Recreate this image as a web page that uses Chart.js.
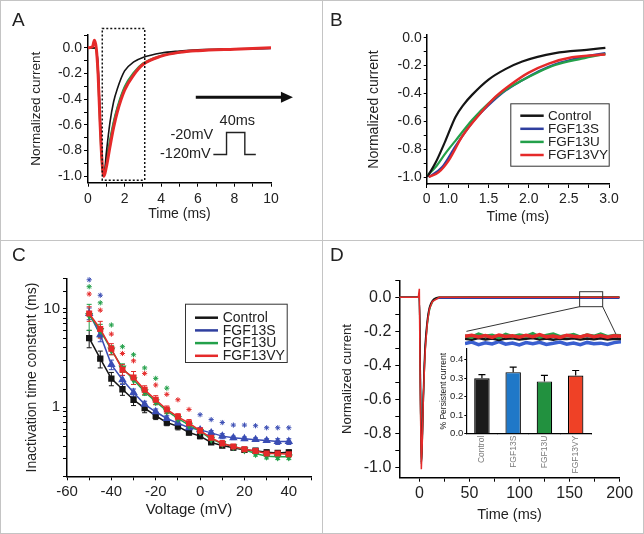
<!DOCTYPE html>
<html>
<head>
<meta charset="utf-8">
<script src="https://cdn.jsdelivr.net/npm/chart.js@4.4.1/dist/chart.umd.min.js"></script>
<style>
  html, body { margin: 0; padding: 0; background: #fff; }
  #fig { position: relative; width: 644px; height: 534px; overflow: hidden; font-family: "Liberation Sans", Arial, sans-serif; }
  .cv { position: absolute; }
  .ln { position: absolute; background: #c4c4c4; }
  .lab { position: absolute; font-size: 19px; line-height: 1; color: #222; }
</style>
</head>
<body>
<div id="fig">
  <canvas id="cA" class="cv" style="left:0;top:0" width="322" height="240"></canvas>
  <canvas id="cB" class="cv" style="left:322px;top:0" width="322" height="240"></canvas>
  <canvas id="cC" class="cv" style="left:0;top:240px" width="322" height="294"></canvas>
  <canvas id="cD" class="cv" style="left:322px;top:240px" width="322" height="294"></canvas>
  <canvas id="cP" class="cv" style="left:465px;top:330px" width="156" height="18"></canvas>
  <canvas id="cBar" class="cv" style="left:430px;top:340px" width="170" height="145"></canvas>

  <div class="ln" style="left:0;top:0;width:644px;height:1px"></div>
  <div class="ln" style="left:0;top:533px;width:644px;height:1px"></div>
  <div class="ln" style="left:0;top:0;width:1px;height:534px"></div>
  <div class="ln" style="left:643px;top:0;width:1px;height:534px"></div>
  <div class="ln" style="left:322px;top:0;width:1px;height:534px"></div>
  <div class="ln" style="left:0;top:240px;width:644px;height:1px"></div>

  <div class="lab" style="left:12px;top:10px">A</div>
  <div class="lab" style="left:330px;top:10px">B</div>
  <div class="lab" style="left:12px;top:245px">C</div>
  <div class="lab" style="left:330px;top:245px">D</div>
</div>

<script>
// ---- data ----
const groups = ['Control', 'FGF13S', 'FGF13U', 'FGF13VY'];

// A: full traces (ms, normalized current)
const timeA = [0, 0.25, 0.35, 0.45, 0.55, 0.65, 0.75, 0.87, 1.0, 1.2, 1.4, 1.6, 2.0, 2.5, 3.0, 4, 5, 6, 8, 10];
const ctrlA = [0, 0, 0, -0.01, -0.15, -0.5, -0.85, -1.0, -0.82, -0.58, -0.42, -0.32, -0.18, -0.11, -0.075, -0.04, -0.025, -0.015, -0.008, -0.003];
const s13A  = [0, 0, 0, -0.01, -0.15, -0.5, -0.85, -1.0, -0.9, -0.73, -0.58, -0.47, -0.31, -0.2, -0.13, -0.065, -0.035, -0.022, -0.01, -0.004];
const u13A  = [0, 0, 0, -0.02, -0.25, -0.6, -0.9, -1.0, -0.87, -0.71, -0.57, -0.46, -0.3, -0.19, -0.12, -0.06, -0.035, -0.022, -0.01, -0.003];
const vyA   = [0, 0.01, 0.06, 0.0, -0.2, -0.55, -0.85, -1.0, -0.93, -0.77, -0.62, -0.5, -0.33, -0.21, -0.13, -0.065, -0.035, -0.022, -0.01, 0];

// A annotations (in data units)
const zoomBoxA = { t: [0.78, 3.1], v: [-1.03, 0.15] };
const arrowA = { t: [5.89, 11.2], v: -0.384 };
const stepT = [6.85, 7.57, 7.57, 8.57, 8.57, 9.17];
const stepV = [-0.831, -0.831, -0.659, -0.659, -0.831, -0.831];
const stepText = ['-120mV', '-20mV', '40ms'];
const stepTextT = [6.71, 6.84, 8.16];
const stepTextV = [-0.83, -0.68, -0.567];

// B: decay phase
const ctrlBt = [0.735, 0.838, 0.963, 1.087, 1.19, 1.295, 1.5, 1.71, 1.92, 2.33, 2.75, 2.955];
const ctrlBv = [-1.0, -0.9, -0.74, -0.57, -0.48, -0.41, -0.3, -0.225, -0.17, -0.11, -0.085, -0.072];
const s13Bt = [0.756, 0.92, 1.087, 1.295, 1.5, 1.71, 1.92, 2.125, 2.33, 2.66, 2.955];
const s13Bv = [-1.0, -0.93, -0.78, -0.61, -0.485, -0.38, -0.305, -0.24, -0.19, -0.14, -0.11];
const u13Bt = [0.735, 0.838, 0.963, 1.087, 1.295, 1.5, 1.71, 1.92, 2.125, 2.33, 2.66, 2.955];
const u13Bv = [-0.99, -0.93, -0.83, -0.74, -0.59, -0.47, -0.375, -0.305, -0.245, -0.195, -0.15, -0.115];
const vyBt = [0.756, 0.88, 1.005, 1.17, 1.38, 1.585, 1.79, 2.0, 2.25, 2.54, 2.955];
const vyBv = [-1.0, -0.965, -0.88, -0.71, -0.555, -0.425, -0.33, -0.25, -0.185, -0.14, -0.12];
const bTicks = [0.73, 1.0, 1.25, 1.5, 1.75, 2.0, 2.25, 2.5, 2.75, 3.0];
const bTickLabels = ['0', '1.0', '', '1.5', '', '2.0', '', '2.5', '', '3.0'];

// C: inactivation time constant vs voltage
const volts  = [-50, -45, -40, -35, -30, -25, -20, -15, -10, -5, 0, 5, 10, 15, 20, 25, 30, 35, 40];
const ctrlTau = [5.0, 3.1, 1.95, 1.52, 1.19, 0.98, 0.82, 0.70, 0.64, 0.555, 0.51, 0.44, 0.41, 0.39, 0.37, 0.363, 0.35, 0.345, 0.35];
const s13Tau  = [8.9, 5.4, 2.7, 1.9, 1.41, 1.07, 0.9, 0.77, 0.69, 0.62, 0.59, 0.55, 0.51, 0.49, 0.48, 0.47, 0.46, 0.45, 0.45];
const u13Tau  = [8.5, 6.0, 3.8, 2.5, 1.9, 1.44, 1.14, 0.92, 0.77, 0.66, 0.57, 0.475, 0.43, 0.40, 0.37, 0.34, 0.32, 0.315, 0.315];
const vyTau   = [8.9, 6.2, 3.9, 2.4, 2.0, 1.5, 1.19, 0.95, 0.8, 0.69, 0.58, 0.49, 0.43, 0.40, 0.375, 0.36, 0.34, 0.34, 0.335];
const ctrlErr = [1.0, 0.6, 0.3, 0.2, 0.15, 0.1, 0.07, 0.05, 0.05, 0.03, 0.03, 0.02, 0.02, 0.02, 0.02, 0.02, 0.02, 0.02, 0.02];
const s13Err  = [1.2, 0.8, 0.3, 0.2, 0.12, 0.08, 0.06, 0.05, 0.04, 0.03, 0.03, 0.03, 0.03, 0.02, 0.02, 0.02, 0.02, 0.03, 0.03];
const u13Err  = [2.5, 0.9, 0.4, 0.25, 0.2, 0.12, 0.08, 0.06, 0.05, 0.04, 0.03, 0.03, 0.02, 0.02, 0.02, 0.02, 0.02, 0.02, 0.02];
const vyErr   = [1.5, 1.2, 0.5, 0.3, 0.3, 0.15, 0.12, 0.08, 0.06, 0.06, 0.04, 0.03, 0.03, 0.02, 0.02, 0.02, 0.02, 0.02, 0.02];
const s13StarV = [-50, -45, 0, 5, 10, 15, 20, 25, 30, 35, 40];
const s13StarY = [19.5, 13.6, 0.84, 0.75, 0.70, 0.66, 0.66, 0.65, 0.62, 0.62, 0.62];
const u13StarV = [-50, -45, -40, -35, -30, -25, -20, -15];
const u13StarY = [16.6, 11.4, 6.8, 4.1, 3.4, 2.5, 1.96, 1.56];
const vyStarV = [-50, -45, -40, -35, -30, -25, -20, -15, -10, -5];
const vyStarY = [14, 9.6, 5.5, 3.5, 2.95, 2.2, 1.68, 1.35, 1.19, 0.95];

// D: long traces
const timeD = [-20, -1, 0, 1, 2, 3, 4, 5, 6, 8, 10, 13, 20, 50, 100, 150, 200];
const ctrlD = [0, 0, 0, -0.45, -0.97, -0.8, -0.56, -0.38, -0.26, -0.13, -0.06, -0.02, 0, 0, 0, 0, 0];
const s13D  = [0, 0, 0, -0.45, -0.98, -0.82, -0.6, -0.42, -0.29, -0.15, -0.07, -0.025, -0.005, -0.006, -0.006, -0.006, -0.006];
const u13D  = [0, 0, 0, -0.5, -0.98, -0.83, -0.6, -0.43, -0.3, -0.16, -0.08, -0.03, 0, 0.002, 0.002, 0.002, 0.002];
const vyD   = [0, 0, 0.05, -0.6, -1.01, -0.84, -0.6, -0.43, -0.3, -0.15, -0.07, -0.025, 0, 0, 0, 0, 0];
const zoomBoxD = { t: [160, 183], v: [-0.055, 0.033] };
const zoomLinkD = { t: [47, 199], v: [-0.2, -0.25] };

// D inset: zoomed persistent current
const persistT = [0, 1, 2, 3, 4, 5, 6, 7, 8, 9, 10, 11, 12, 13, 14, 15, 16, 17, 18, 19, 20, 21, 22, 23];
const vyP   = [0.30, 0.42, 0.22, 0.38, 0.18, 0.45, 0.28, 0.36, 0.20, 0.40, 0.26, 0.48, 0.24, 0.34, 0.18, 0.42, 0.30, 0.22, 0.44, 0.26, 0.38, 0.20, 0.36, 0.30];
const u13P  = [0.35, 0.20, 0.55, 0.30, 0.40, 0.15, 0.50, 0.25, 0.45, 0.30, 0.60, 0.20, 0.40, 0.55, 0.25, 0.35, 0.50, 0.20, 0.45, 0.30, 0.55, 0.25, 0.40, 0.35];
const ctrlP = [0.02, -0.08, 0.10, -0.05, 0.06, -0.10, 0.04, 0.08, -0.06, 0.02, 0.10, -0.04, 0.06, -0.08, 0.04, 0.00, 0.08, -0.06, 0.05, -0.02, 0.07, -0.05, 0.03, 0.00];
const s13P  = [-0.50, -0.35, -0.62, -0.42, -0.55, -0.30, -0.58, -0.45, -0.65, -0.40, -0.52, -0.36, -0.60, -0.48, -0.33, -0.57, -0.44, -0.62, -0.38, -0.52, -0.46, -0.60, -0.40, -0.30];

// D inset bars: % persistent current
const persist = [0.30, 0.333, 0.283, 0.315];
const persistErr = [0.02, 0.027, 0.033, 0.027];

// ---- styling ----
const FONT = '"Liberation Sans", Arial, sans-serif';
const COL = ['#151515', '#2f3f9f', '#23a04a', '#e52a2a'];
const BAR_COL = ['#1b1b1b', '#1f78c8', '#22913f', '#ef4126'];

Chart.defaults.animation = false;
Chart.defaults.font.family = FONT;
Chart.defaults.plugins.legend.display = false;
Chart.defaults.plugins.tooltip.enabled = false;

// work out padding so the plot area and axis titles land where they should
function fixBox(W, H, area, yTitleX, yTitleSize, xTitleY, xTitleSize) {
  const padL = yTitleX - 0.6 * yTitleSize;
  const padB = xTitleY == null ? 0 : H - xTitleY - 0.6 * xTitleSize;
  return {
    padding: { left: padL, top: area.top, right: W - area.right, bottom: padB },
    yW: area.left - padL,
    xH: H - area.bottom - padB
  };
}
const fitY = w => s => { s.width = w; s.paddingTop = 0; s.paddingBottom = 0; };
const fitX = h => s => { s.height = h; s.paddingLeft = 0; s.paddingRight = 0; };

function mkAxis(o) {
  const ticks = {
    stepSize: o.step, includeBounds: false, autoSkip: false,
    maxRotation: o.rot || 0, minRotation: o.rot || 0, padding: o.pad == null ? 3 : o.pad,
    color: o.tc || '#222', font: { family: FONT, size: o.fs }
  };
  if (o.cb) ticks.callback = o.cb;
  const ax = {
    type: o.type || 'linear', min: o.min, max: o.max, offset: o.offset || false,
    border: { display: true, color: '#000', width: o.bw || 1.5 },
    grid: { display: true, drawOnChartArea: false, drawTicks: true, tickLength: o.tl == null ? 4 : o.tl, tickColor: '#000', tickWidth: 1 },
    ticks,
    title: o.title ? { display: true, text: o.title, color: '#222', padding: 0, font: { family: FONT, size: o.ts } } : { display: false },
    afterFit: o.fit
  };
  if (o.abt) ax.afterBuildTicks = o.abt;
  return ax;
}

const everyOther = v => { const k = Math.round(v * 10); return k % 2 === 0 ? (k / 10).toFixed(1) : ''; };

function series(label, xs, ys, color, width, order, extra) {
  return Object.assign({
    label, data: xs.map((x, i) => ({ x, y: ys[i] })),
    borderColor: color, backgroundColor: color, borderWidth: width,
    pointRadius: 0, cubicInterpolationMode: 'monotone', order
  }, extra || {});
}

function boxLegend(b) {
  return {
    id: 'boxLegend',
    afterDraw(chart) {
      const { ctx, chartArea: a } = chart;
      const x0 = a.left + b.dx, y0 = a.top + b.dy;
      ctx.save();
      ctx.fillStyle = '#fff';
      ctx.fillRect(x0, y0, b.w, b.h);
      ctx.strokeStyle = '#333'; ctx.lineWidth = 1;
      ctx.strokeRect(x0 + 0.5, y0 + 0.5, b.w, b.h);
      ctx.font = b.fs + 'px ' + FONT; ctx.textBaseline = 'middle'; ctx.textAlign = 'left';
      groups.forEach((g, i) => {
        const yy = y0 + b.first + i * b.rowH;
        ctx.strokeStyle = COL[i]; ctx.lineWidth = 2.5;
        ctx.beginPath(); ctx.moveTo(x0 + b.lx, yy); ctx.lineTo(x0 + b.lx + b.len, yy); ctx.stroke();
        ctx.fillStyle = '#222';
        ctx.fillText(g, x0 + b.tx, yy + 0.5);
      });
      ctx.restore();
    }
  };
}

// ---- A ----
const annoA = {
  id: 'annoA',
  afterDatasetsDraw(chart) {
    const { ctx, scales: { x, y } } = chart;
    ctx.save();
    ctx.strokeStyle = '#111'; ctx.lineWidth = 1.5; ctx.setLineDash([2, 2]);
    const bx1 = x.getPixelForValue(zoomBoxA.t[0]), bx2 = x.getPixelForValue(zoomBoxA.t[1]);
    const by1 = y.getPixelForValue(zoomBoxA.v[1]), by2 = y.getPixelForValue(zoomBoxA.v[0]);
    ctx.strokeRect(bx1, by1, bx2 - bx1, by2 - by1);
    ctx.setLineDash([]);
    // arrow
    const ax1 = x.getPixelForValue(arrowA.t[0]), ax2 = x.getPixelForValue(arrowA.t[1]), ay = y.getPixelForValue(arrowA.v);
    ctx.lineWidth = 3;
    ctx.beginPath(); ctx.moveTo(ax1, ay); ctx.lineTo(ax2 - 9, ay); ctx.stroke();
    ctx.fillStyle = '#111';
    ctx.beginPath(); ctx.moveTo(ax2, ay); ctx.lineTo(ax2 - 12, ay - 5.5); ctx.lineTo(ax2 - 12, ay + 5.5); ctx.closePath(); ctx.fill();
    // voltage protocol
    ctx.lineWidth = 1.4; ctx.strokeStyle = '#222';
    ctx.beginPath();
    stepT.forEach((t, i) => {
      const px = x.getPixelForValue(t), py = y.getPixelForValue(stepV[i]);
      if (i) ctx.lineTo(px, py); else ctx.moveTo(px, py);
    });
    ctx.stroke();
    ctx.font = '14.5px ' + FONT; ctx.fillStyle = '#222'; ctx.textBaseline = 'middle';
    stepText.forEach((s, i) => {
      ctx.textAlign = i === 2 ? 'center' : 'right';
      ctx.fillText(s, x.getPixelForValue(stepTextT[i]), y.getPixelForValue(stepTextV[i]));
    });
    ctx.restore();
  }
};

const bA = fixBox(322, 240, { left: 88, top: 35, right: 271, bottom: 182.7 }, 36.7, 13.5, 214, 14);
new Chart(document.getElementById('cA'), {
  type: 'line',
  data: { datasets: [
    series(groups[0], timeA, ctrlA, COL[0], 1.6, 1),
    series(groups[1], timeA, s13A, COL[1], 1.6, 3),
    series(groups[2], timeA, u13A, COL[2], 1.6, 2),
    series(groups[3], timeA, vyA, COL[3], 3, 0)
  ] },
  options: {
    responsive: false,
    layout: { padding: bA.padding },
    scales: {
      x: mkAxis({ min: 0, max: 10, step: 1, fs: 14, pad: 4, cb: v => (v % 2 === 0 ? String(v) : ''), title: 'Time (ms)', ts: 14, fit: fitX(bA.xH) }),
      y: mkAxis({ min: -1.05, max: 0.1, step: 0.1, fs: 14, pad: 2, cb: everyOther, title: 'Normalized current', ts: 13.5, fit: fitY(bA.yW) })
    }
  },
  plugins: [annoA]
});

// ---- B ----
const bB = fixBox(322, 240, { left: 104.7, top: 35, right: 287, bottom: 184 }, 52.5, 14, 216.7, 14);
new Chart(document.getElementById('cB'), {
  type: 'line',
  data: { datasets: [
    series(groups[0], ctrlBt, ctrlBv, COL[0], 2.2, 1),
    series(groups[1], s13Bt, s13Bv, COL[1], 2.2, 3),
    series(groups[2], u13Bt, u13Bv, COL[2], 2.2, 2),
    series(groups[3], vyBt, vyBv, COL[3], 2.4, 0)
  ] },
  options: {
    responsive: false,
    layout: { padding: bB.padding },
    scales: {
      x: mkAxis({ min: 0.73, max: 3.0, fs: 14, pad: 3, cb: (v, i) => bTickLabels[i],
        abt: s => { s.ticks = bTicks.map(v => ({ value: v })); }, title: 'Time (ms)', ts: 14, fit: fitX(bB.xH) }),
      y: mkAxis({ min: -1.05, max: 0.02, step: 0.1, fs: 14, pad: 2, tl: 3, cb: everyOther, title: 'Normalized current', ts: 14, fit: fitY(bB.yW) })
    }
  },
  plugins: [boxLegend({ dx: 83.6, dy: 68.3, w: 98.4, h: 62.4, lx: 10, len: 23.4, tx: 37.7, first: 12.4, rowH: 13.1, fs: 13.5 })]
});

// ---- C ----
const errSets = [ctrlErr, s13Err, u13Err, vyErr];
const errorBars = {
  id: 'errorBars',
  beforeDatasetsDraw(chart) {
    const { ctx, scales: { y } } = chart;
    ctx.save();
    errSets.forEach((errs, di) => {
      const meta = chart.getDatasetMeta(di);
      const ds = chart.data.datasets[di];
      ctx.strokeStyle = ds.borderColor; ctx.lineWidth = 1;
      meta.data.forEach((pt, j) => {
        const v = ds.data[j].y, e = errs[j];
        const yt = y.getPixelForValue(v + e), yb = y.getPixelForValue(Math.max(v - e, 0.01));
        ctx.beginPath();
        ctx.moveTo(pt.x, yt); ctx.lineTo(pt.x, yb);
        ctx.moveTo(pt.x - 2.5, yt); ctx.lineTo(pt.x + 2.5, yt);
        ctx.moveTo(pt.x - 2.5, yb); ctx.lineTo(pt.x + 2.5, yb);
        ctx.stroke();
      });
    });
    ctx.restore();
  }
};

const stars = (label, xs, ys, color) => ({
  label, data: xs.map((x, i) => ({ x, y: ys[i] })), showLine: false,
  pointStyle: 'star', pointRadius: 2.6, borderColor: color, backgroundColor: color, pointBorderWidth: 1, clip: false, order: 5
});

const bC = fixBox(322, 294, { left: 67, top: 38.7, right: 311, bottom: 236.3 }, 31.7, 14, 269.5, 15);
new Chart(document.getElementById('cC'), {
  type: 'line',
  data: { datasets: [
    series(groups[0], volts, ctrlTau, COL[0], 1.5, 3, { pointRadius: 3.4, pointStyle: 'rect', cubicInterpolationMode: 'default', tension: 0 }),
    series(groups[1], volts, s13Tau, '#3a4db4', 1.5, 2, { pointRadius: 3.4, pointStyle: 'triangle', cubicInterpolationMode: 'default', tension: 0 }),
    series(groups[2], volts, u13Tau, COL[2], 1.5, 1, { pointRadius: 3.2, pointStyle: 'triangle', pointRotation: 180, cubicInterpolationMode: 'default', tension: 0 }),
    series(groups[3], volts, vyTau, COL[3], 1.5, 0, { pointRadius: 3.2, pointStyle: 'rect', cubicInterpolationMode: 'default', tension: 0 }),
    stars('FGF13S *', s13StarV, s13StarY, '#3a4db4'),
    stars('FGF13U *', u13StarV, u13StarY, COL[2]),
    stars('FGF13VY *', vyStarV, vyStarY, COL[3])
  ] },
  options: {
    responsive: false,
    layout: { padding: bC.padding },
    scales: {
      x: mkAxis({ min: -60, max: 50, step: 10, fs: 15, pad: 3, cb: v => (v % 20 === 0 ? String(v) : ''), title: 'Voltage (mV)', ts: 15, fit: fitX(bC.xH) }),
      y: mkAxis({ type: 'logarithmic', min: 0.2, max: 20, fs: 15, pad: 3,
        cb: v => (Math.abs(v - 1) < 1e-9 ? '1' : Math.abs(v - 10) < 1e-9 ? '10' : ''),
        title: 'Inactivation time constant (ms)', ts: 14, fit: fitY(bC.yW) })
    }
  },
  plugins: [errorBars, boxLegend({ dx: 118, dy: 25, w: 101.7, h: 58.3, lx: 10, len: 23, tx: 37.7, first: 14, rowH: 12.7, fs: 14 })]
});

// ---- D ----
const annoD = {
  id: 'annoD',
  afterDatasetsDraw(chart) {
    const { ctx, scales: { x, y } } = chart;
    const x1 = x.getPixelForValue(zoomBoxD.t[0]), x2 = x.getPixelForValue(zoomBoxD.t[1]);
    const y1 = y.getPixelForValue(zoomBoxD.v[1]), y2 = y.getPixelForValue(zoomBoxD.v[0]);
    ctx.save();
    ctx.strokeStyle = '#333'; ctx.lineWidth = 1;
    ctx.strokeRect(x1, y1, x2 - x1, y2 - y1);
    ctx.beginPath();
    ctx.moveTo(x1, y2); ctx.lineTo(x.getPixelForValue(zoomLinkD.t[0]), y.getPixelForValue(zoomLinkD.v[0]));
    ctx.moveTo(x2, y2); ctx.lineTo(x.getPixelForValue(zoomLinkD.t[1]), y.getPixelForValue(zoomLinkD.v[1]));
    ctx.stroke();
    ctx.restore();
  }
};

const bD = fixBox(322, 294, { left: 77.3, top: 40.3, right: 297.7, bottom: 237.7 }, 25.8, 13, 275.3, 14.5);
new Chart(document.getElementById('cD'), {
  type: 'line',
  data: { datasets: [
    series(groups[0], timeD, ctrlD, COL[0], 1.5, 1),
    series(groups[1], timeD, s13D, COL[1], 1.5, 3),
    series(groups[2], timeD, u13D, COL[2], 1.5, 2),
    series(groups[3], timeD, vyD, COL[3], 1.5, 0, { cubicInterpolationMode: 'default', tension: 0 })
  ] },
  options: {
    responsive: false,
    layout: { padding: bD.padding },
    scales: {
      x: mkAxis({ min: -20, max: 200, step: 25, fs: 16, pad: 2, cb: v => (v % 50 === 0 ? String(v) : ''), title: 'Time (ms)', ts: 14.5, fit: fitX(bD.xH) }),
      y: mkAxis({ min: -1.06, max: 0.1, step: 0.1, fs: 16, pad: 4, cb: everyOther, title: 'Normalized current', ts: 13, fit: fitY(bD.yW) })
    }
  },
  plugins: [annoD]
});

// D inset: zoomed traces
new Chart(document.getElementById('cP'), {
  type: 'line',
  data: { datasets: [
    series(groups[0], persistT, ctrlP, COL[0], 2.5, 2, { cubicInterpolationMode: 'default', tension: 0 }),
    series(groups[1], persistT, s13P, '#3a5fd0', 3.5, 3, { cubicInterpolationMode: 'default', tension: 0 }),
    series(groups[2], persistT, u13P, COL[2], 3.5, 1, { cubicInterpolationMode: 'default', tension: 0 }),
    series(groups[3], persistT, vyP, COL[3], 3.5, 0, { cubicInterpolationMode: 'default', tension: 0 })
  ] },
  options: {
    responsive: false,
    layout: { padding: 0 },
    scales: {
      x: { type: 'linear', display: false, min: 0, max: 23 },
      y: { display: false, min: -1, max: 1 }
    }
  }
});

// D inset: bar chart
const barErrors = {
  id: 'barErrors',
  afterDatasetsDraw(chart) {
    const { ctx, scales: { y } } = chart;
    const meta = chart.getDatasetMeta(0);
    ctx.save();
    ctx.strokeStyle = '#000'; ctx.lineWidth = 1.2;
    meta.data.forEach((bar, j) => {
      const yb = y.getPixelForValue(persist[j]), yt = y.getPixelForValue(persist[j] + persistErr[j]);
      ctx.beginPath();
      ctx.moveTo(bar.x, yb); ctx.lineTo(bar.x, yt);
      ctx.moveTo(bar.x - 3.5, yt); ctx.lineTo(bar.x + 3.5, yt);
      ctx.stroke();
    });
    ctx.restore();
  }
};

const bBar = fixBox(170, 145, { left: 36.3, top: 8.7, right: 161.3, bottom: 93.7 }, 13.7, 8.5, null, 0);
new Chart(document.getElementById('cBar'), {
  type: 'bar',
  data: {
    labels: groups,
    datasets: [{
      data: persist, backgroundColor: BAR_COL, borderColor: '#000', borderWidth: 1.2,
      barPercentage: 0.55, categoryPercentage: 0.9
    }]
  },
  options: {
    responsive: false,
    layout: { padding: bBar.padding },
    scales: {
      x: mkAxis({ type: 'category', offset: true, fs: 8.5, tc: '#7a7a7a', rot: 90, pad: 2, tl: 0, bw: 1.2,
        cb: (v, i) => groups[i], fit: fitX(bBar.xH) }),
      y: mkAxis({ min: 0, max: 0.46, step: 0.1, fs: 9.5, pad: 1, tl: 2, bw: 1.2,
        cb: v => (Math.round(v * 10) / 10).toFixed(1), title: '% Persistent current', ts: 8.5, fit: fitY(bBar.yW) })
    }
  },
  plugins: [barErrors]
});
</script>
</body>
</html>
